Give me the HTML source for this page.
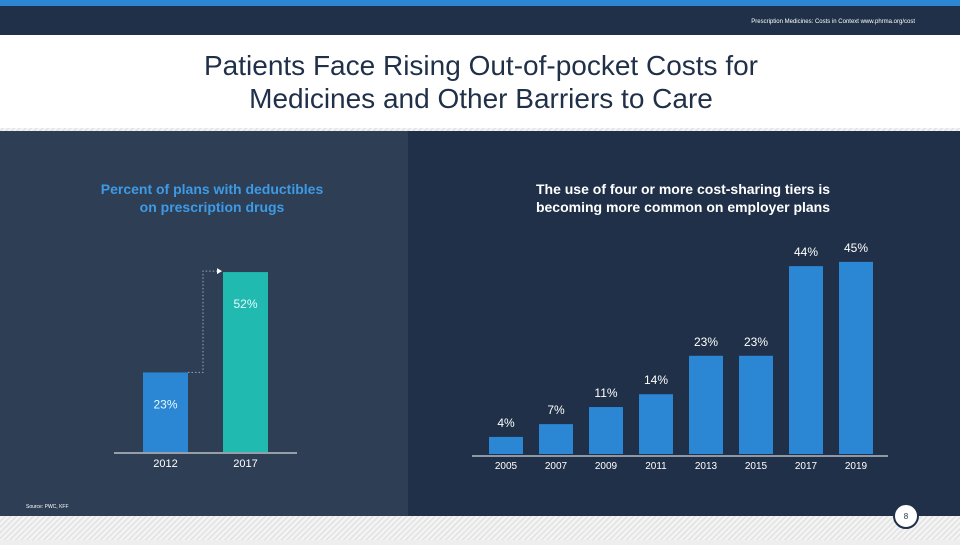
<!DOCTYPE html>
<html><head><meta charset="utf-8"><style>
body{margin:0;width:960px;height:540px;overflow:hidden;font-family:"Liberation Sans",sans-serif;background:#eee}
</style></head><body>
<svg width="960" height="540" xmlns="http://www.w3.org/2000/svg">
<defs><pattern id="st" width="4" height="4" patternUnits="userSpaceOnUse" patternTransform="rotate(45)"><rect width="4" height="4" fill="#f4f4f4"/><rect width="1.5" height="4" fill="#e2e2e2"/></pattern></defs>
<rect width="960" height="540" fill="url(#st)"/>
<rect x="0" y="0" width="960" height="6" fill="#2b86d4"/>
<rect x="0" y="6" width="960" height="29" fill="#1f3048"/>
<text x="915" y="23" text-anchor="end" font-size="6" fill="#fff">Prescription Medicines: Costs in Context  www.phrma.org/cost</text>
<rect x="0" y="35" width="960" height="93" fill="#fff"/>
<text x="481" y="75" text-anchor="middle" font-size="28" fill="#1f3048">Patients Face Rising Out-of-pocket Costs for</text>
<text x="481" y="108" text-anchor="middle" font-size="28" fill="#1f3048">Medicines and Other Barriers to Care</text>
<rect x="0" y="131" width="408" height="385" fill="#2e3e55"/>
<rect x="408" y="131" width="552" height="385" fill="#1f3048"/>
<text x="212" y="194" text-anchor="middle" font-size="14" font-weight="bold" fill="#3d9be6">Percent of plans with deductibles</text>
<text x="212" y="212" text-anchor="middle" font-size="14" font-weight="bold" fill="#3d9be6">on prescription drugs</text>
<text x="683" y="194" text-anchor="middle" font-size="14" font-weight="bold" fill="#fff">The use of four or more cost-sharing tiers is</text>
<text x="683" y="212" text-anchor="middle" font-size="14" font-weight="bold" fill="#fff">becoming more common on employer plans</text>
<g id="left"></g>
<g id="right"></g>
<text x="26" y="508" font-size="5" fill="#fff">Source: PWC, KFF</text>
<circle cx="906" cy="516" r="12" fill="#fff" stroke="#1f3048" stroke-width="2"/>
<text x="906" y="519" text-anchor="middle" font-size="8" fill="#1f3048">8</text>
</svg>
<script>
const leftYears=["2012","2017"];
const leftValues=[23,52];
const rightYears=["2005","2007","2009","2011","2013","2015","2017","2019"];
const rightValues=[4,7,11,14,23,23,44,45];
const NS="http://www.w3.org/2000/svg";
function mk(p,t,a){const e=document.createElementNS(NS,t);for(const k in a)e.setAttribute(k,a[k]);p.appendChild(e);return e;}
const L=document.getElementById('left');
const lBase=452,lScale=3.46;
const lx=i=>165.5+i*80;
const ly=v=>lBase-v*lScale;
const lColors=["#2b86d4","#20bab0"];
leftValues.forEach((v,i)=>{
 const r=mk(L,'rect',{x:lx(i)-22.5,y:ly(v),width:45,height:lBase-ly(v),fill:lColors[i]});
 
 
 const t=mk(L,'text',{x:lx(i),y:ly(v)+36,'text-anchor':'middle','font-size':12,fill:'#e6fbff'});
 t.textContent=v+'%';
 
 
 const y=mk(L,'text',{x:lx(i),y:467,'text-anchor':'middle','font-size':11,fill:'#fff'});
 y.textContent=leftYears[i];
 
 
});
const ln=mk(L,'line',{x1:114,y1:lBase+1,x2:297,y2:lBase+1,stroke:'#fff','stroke-width':1});


const c=mk(L,'path',{d:`M${lx(0)+22.5} ${ly(leftValues[0])} H203 V${ly(leftValues[1])-1} H218`,fill:'none',stroke:'#9aa8bb','stroke-width':1,'stroke-dasharray':'1.5 2'});


const ah=mk(L,'path',{d:`M217 ${ly(leftValues[1])-4} L222 ${ly(leftValues[1])-1} L217 ${ly(leftValues[1])+2}Z`,fill:'#fff'});


const R=document.getElementById('right');
const rBase=454,rScale=4.27;
const rx=i=>506+i*50;
const ry=v=>rBase-v*rScale;
rightValues.forEach((v,i)=>{
 const r=mk(R,'rect',{x:rx(i)-17,y:ry(v),width:34,height:rBase-ry(v),fill:'#2b86d4'});
 
 
 const t=mk(R,'text',{x:rx(i),y:ry(v)-10,'text-anchor':'middle','font-size':12,fill:'#fff'});
 t.textContent=v+'%';
 
 
 const y=mk(R,'text',{x:rx(i),y:469,'text-anchor':'middle','font-size':10,fill:'#fff'});
 y.textContent=rightYears[i];
 
 
});
const rl=mk(R,'line',{x1:472,y1:rBase+2,x2:888,y2:rBase+2,stroke:'#fff','stroke-width':1});


</script>
</body></html>
